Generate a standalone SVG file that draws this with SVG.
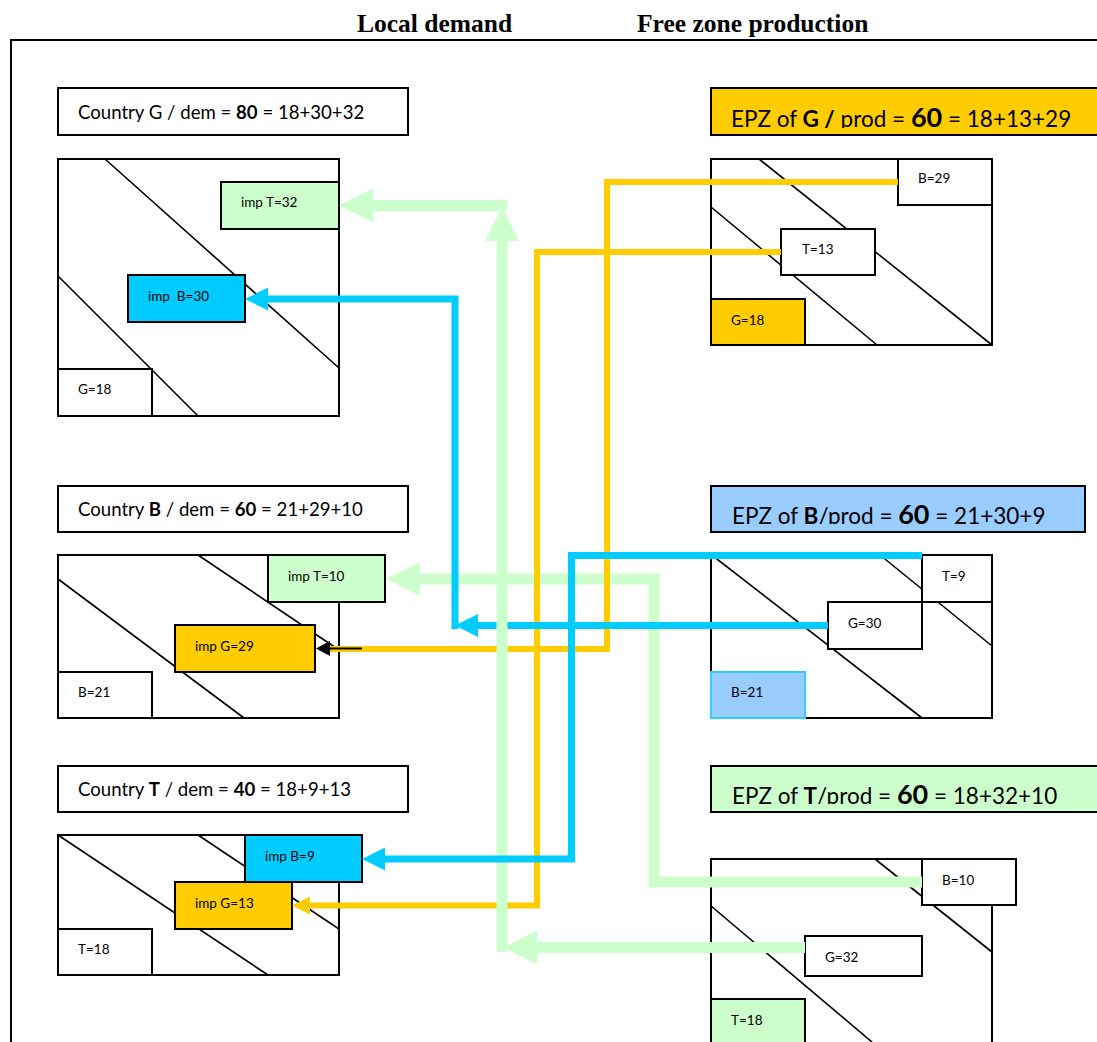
<svg xmlns="http://www.w3.org/2000/svg" width="1097" height="1042" viewBox="0 0 1097 1042">
<defs>
<style>
.title{font-family:"Liberation Serif",serif;font-weight:bold;font-size:25.5px;fill:#000}
.hdr{font-family:Lato,"Liberation Sans",sans-serif;font-size:18.6px;fill:#000}
.epz{font-family:Lato,"Liberation Sans",sans-serif;font-size:22.5px;fill:#000}
.big{font-size:27px;font-weight:bold}
.b{font-weight:bold}
.lbl{font-family:Lato,"Liberation Sans",sans-serif;font-size:13.5px;fill:#000;white-space:pre}
.box{fill:#fff;stroke:#000;stroke-width:2}
.frame{fill:none;stroke:#000;stroke-width:2}
.diag{stroke:#000;stroke-width:1.6;fill:none}
.fg{fill:#CCFFCC}
.fc{fill:#00CCFF}
.fy{fill:#FFCC00}
.fl{fill:#99CCFF}
.cg{fill:none;stroke:#CCFFCC;stroke-width:11}
.cc{fill:none;stroke:#00CCFF;stroke-width:7}
.cy{fill:none;stroke:#FFCC00;stroke-width:6}
.ck{fill:none;stroke:#000;stroke-width:2}
</style>
<marker id="ag" markerUnits="userSpaceOnUse" markerWidth="34" markerHeight="34" refX="0" refY="17" orient="auto" overflow="visible"><path d="M0,0 L34,17 L0,34 Z" fill="#CCFFCC"/></marker>
<marker id="ac" markerUnits="userSpaceOnUse" markerWidth="23" markerHeight="23" refX="0" refY="11.5" orient="auto" overflow="visible"><path d="M0,0 L23,11.5 L0,23 Z" fill="#00CCFF"/></marker>
<marker id="ay" markerUnits="userSpaceOnUse" markerWidth="18" markerHeight="18" refX="0" refY="9" orient="auto" overflow="visible"><path d="M0,0 L18,9 L0,18 Z" fill="#FFCC00"/></marker>
<marker id="ak" markerUnits="userSpaceOnUse" markerWidth="14" markerHeight="15" refX="0" refY="7.5" orient="auto" overflow="visible"><path d="M0,0 L14,7.5 L0,15 Z" fill="#000"/></marker>
<clipPath id="clipG"><rect x="711" y="88" width="390" height="40"/></clipPath>
<clipPath id="clipB"><rect x="711" y="486" width="374" height="38"/></clipPath>
<clipPath id="clipT"><rect x="711" y="766" width="390" height="38"/></clipPath>
</defs>
<rect width="1097" height="1042" fill="#fff"/>

<g id="titles">
<text class="title" x="357" y="32">Local demand</text>
<text class="title" x="637" y="32">Free zone production</text>
</g>
<path id="frame" class="frame" d="M11,1042 V40 H1097"/>

<!-- Country G -->
<g id="country-G-header"><rect class="box" x="58" y="88" width="350" height="47"/><text class="hdr" x="78" y="119">Country G / dem = <tspan class="b">80</tspan> = 18+30+32</text></g>
<g id="country-G">
<rect class="box" x="58" y="159" width="281" height="257"/>
<line class="diag" x1="105" y1="159" x2="339" y2="368"/>
<line class="diag" x1="58" y1="276" x2="198" y2="416"/>
</g>
<g id="G-impT"><rect class="box fg" x="221" y="182" width="118" height="47"/><text class="lbl" x="241" y="207">imp T=32</text></g>
<g id="G-impB"><rect class="box fc" x="128" y="275" width="117" height="47"/><text class="lbl" x="148" y="301">imp  B=30</text></g>
<g id="G-local"><rect class="box" x="58" y="369" width="94" height="47"/><text class="lbl" x="78" y="394">G=18</text></g>

<!-- EPZ G -->
<g id="epz-G-header"><rect x="711" y="88" width="400" height="47" fill="#FFCC00" stroke="#000" stroke-width="2"/><text class="epz" x="731" y="127" clip-path="url(#clipG)">EPZ of <tspan class="b">G /</tspan> prod = <tspan class="big">60</tspan> = 18+13+29</text></g>
<g id="epz-G">
<rect class="box" x="711" y="159" width="281" height="186"/>
<line class="diag" x1="759" y1="159" x2="992" y2="345"/>
<line class="diag" x1="711" y1="207" x2="877" y2="345"/>
</g>
<g id="epzG-B"><rect class="box" x="898" y="159" width="94" height="46"/><text class="lbl" x="918" y="183">B=29</text></g>
<g id="epzG-T"><rect class="box" x="781" y="229" width="94" height="46"/><text class="lbl" x="802" y="254">T=13</text></g>
<g id="epzG-G"><rect class="box fy" x="711" y="299" width="94" height="46"/><text class="lbl" x="731" y="325">G=18</text></g>

<!-- Country B -->
<g id="country-B-header"><rect class="box" x="58" y="486" width="350" height="46"/><text class="hdr" x="78" y="516">Country <tspan class="b">B</tspan> / dem = <tspan class="b">60</tspan> = 21+29+10</text></g>
<g id="country-B">
<rect class="box" x="58" y="555" width="281" height="163"/>
<line class="diag" x1="198" y1="555" x2="339" y2="650"/>
<line class="diag" x1="58" y1="579" x2="244" y2="718"/>
</g>
<g id="B-impT"><rect class="box fg" x="268" y="555" width="117" height="47"/><text class="lbl" x="288" y="581">imp T=10</text></g>
<g id="B-impG"><rect class="box fy" x="175" y="625" width="140" height="47"/><text class="lbl" x="195" y="651">imp G=29</text></g>
<g id="B-local"><rect class="box" x="58" y="672" width="94" height="46"/><text class="lbl" x="78" y="697">B=21</text></g>

<!-- EPZ B -->
<g id="epz-B-header"><rect x="711" y="486" width="374" height="46" fill="#99CCFF" stroke="#000" stroke-width="2"/><text class="epz" x="732" y="524" clip-path="url(#clipB)">EPZ of <tspan class="b">B</tspan>/prod = <tspan class="big">60</tspan> = 21+30+9</text></g>
<g id="epz-B">
<rect class="box" x="711" y="555" width="281" height="163"/>
<line class="diag" x1="713" y1="556" x2="922" y2="718"/>
<line class="diag" x1="880" y1="555" x2="992" y2="646"/>
</g>
<g id="epzB-T"><rect class="box" x="922" y="555" width="70" height="47"/><text class="lbl" x="942" y="581">T=9</text></g>
<g id="epzB-G"><rect class="box" x="828" y="602" width="94" height="47"/><text class="lbl" x="848" y="628">G=30</text></g>
<g id="epzB-B"><rect class="fl" x="711" y="672" width="94" height="46" stroke="#33CCFF" stroke-width="2"/><text class="lbl" x="731" y="697">B=21</text></g>

<!-- Country T -->
<g id="country-T-header"><rect class="box" x="58" y="766" width="350" height="46"/><text class="hdr" x="78" y="796">Country <tspan class="b">T</tspan> / dem = <tspan class="b">40</tspan> = 18+9+13</text></g>
<g id="country-T">
<rect class="box" x="58" y="835" width="281" height="140"/>
<line class="diag" x1="58" y1="835" x2="268" y2="975"/>
<line class="diag" x1="198" y1="835" x2="339" y2="929"/>
</g>
<g id="T-impB"><rect class="box fc" x="245" y="835" width="117" height="47"/><text class="lbl" x="265" y="861">imp B=9</text></g>
<g id="T-impG"><rect class="box fy" x="175" y="882" width="117" height="47"/><text class="lbl" x="195" y="908">imp G=13</text></g>
<g id="T-local"><rect class="box" x="58" y="929" width="94" height="46"/><text class="lbl" x="78" y="954">T=18</text></g>

<!-- EPZ T -->
<g id="epz-T-header"><rect x="711" y="766" width="400" height="46" fill="#CCFFCC" stroke="#000" stroke-width="2"/><text class="epz" x="732" y="804" clip-path="url(#clipT)">EPZ of <tspan class="b">T</tspan>/prod = <tspan class="big">60</tspan> = 18+32+10</text></g>
<g id="epz-T">
<rect class="box" x="711" y="859" width="281" height="200"/>
<line class="diag" x1="875" y1="859" x2="992" y2="952"/>
<line class="diag" x1="711" y1="906" x2="872" y2="1042"/>
</g>
<g id="epzT-B"><rect class="box" x="922" y="859" width="94" height="46"/><text class="lbl" x="942" y="885">B=10</text></g>
<g id="epzT-G"><rect class="box" x="805" y="936" width="117" height="40"/><text class="lbl" x="825" y="962">G=32</text></g>
<g id="epzT-T"><rect class="box fg" x="711" y="999" width="94" height="60"/><text class="lbl" x="731" y="1025">T=18</text></g>

<!-- Connectors -->
<g id="connectors">
<polyline class="cg" points="922,882 654,882 654,579 420,579" marker-end="url(#ag)"/>
<polyline class="cy" points="898,182 607,182 607,649 330,649"/>
<line class="ck" x1="362" y1="648.5" x2="330" y2="648.5" marker-end="url(#ak)"/>
<polyline class="cy" points="781,252 537,252 537,905.5 310,905.5" marker-end="url(#ay)"/>
<line class="cc" x1="828" y1="625.5" x2="478" y2="625.5" marker-end="url(#ac)"/>
<polyline class="cc" points="455,629 455,299 268,299" marker-end="url(#ac)"/>
<line class="cg" x1="805" y1="947.5" x2="537" y2="947.5" marker-end="url(#ag)"/>
<line class="cg" x1="502" y1="952" x2="502" y2="241" marker-end="url(#ag)"/>
<line class="cg" x1="507" y1="205.5" x2="373" y2="205.5" marker-end="url(#ag)"/>
<polyline class="cc" points="922,555.5 571.5,555.5 571.5,859 385,859" marker-end="url(#ac)"/>
</g>
</svg>
